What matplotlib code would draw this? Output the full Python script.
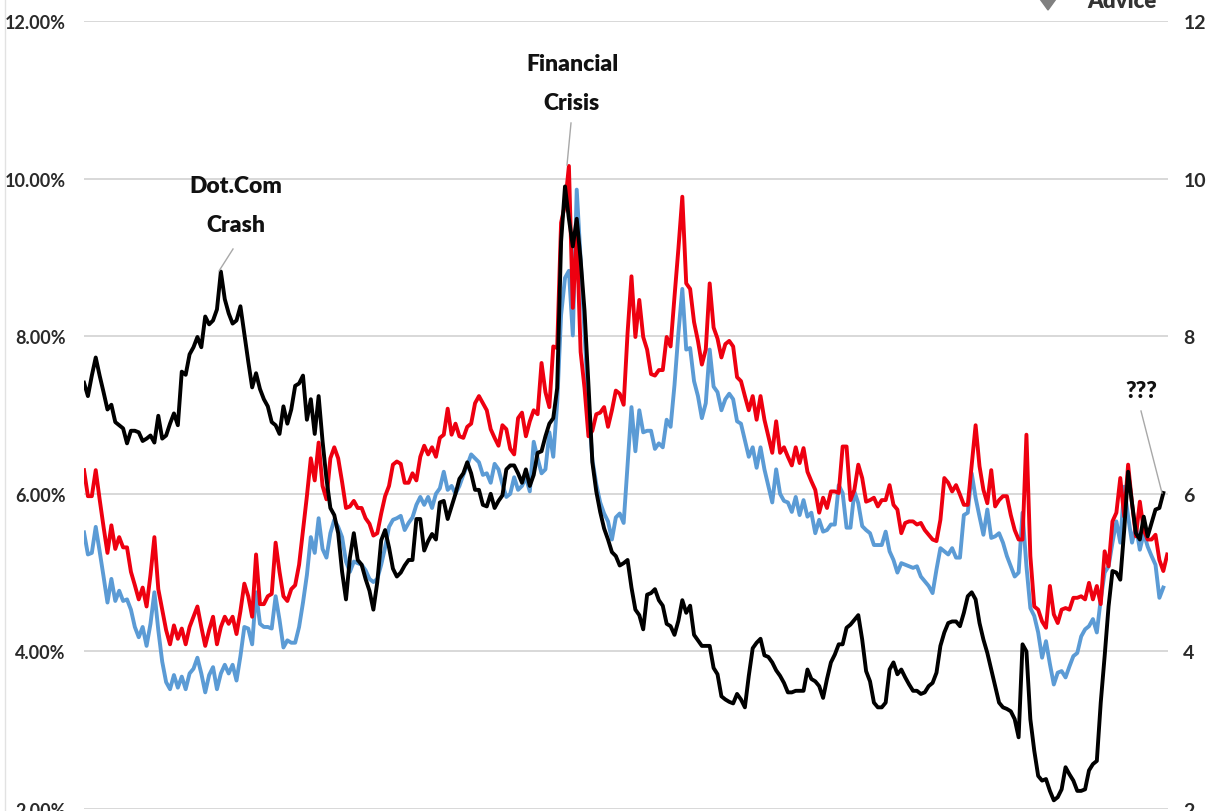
import matplotlib
matplotlib.use('Agg')
import matplotlib.pyplot as plt
from matplotlib.patches import Polygon

# monthly values
red = [6.3,5.97,5.97,6.3,5.93,5.58,5.25,5.6,5.3,5.45,
       5.32,5.32,5.01,4.84,4.66,4.81,4.57,4.97,5.45,4.79,
       4.53,4.27,4.09,4.33,4.16,4.29,4.09,4.31,4.44,4.57,
       4.31,4.07,4.27,4.44,4.09,4.31,4.44,4.35,4.44,4.22,
       4.51,4.86,4.7,4.44,5.23,4.6,4.6,4.7,4.73,5.38,
       5.01,4.7,4.64,4.79,4.84,5.1,5.54,5.97,6.45,6.17,
       6.65,6.1,5.93,6.45,6.59,6.45,6.15,5.82,5.84,5.91,
       5.82,5.82,5.69,5.62,5.47,5.5,5.75,5.97,6.1,6.37,
       6.41,6.38,6.14,6.14,6.26,6.17,6.47,6.61,6.5,6.59,
       6.47,6.71,6.75,7.08,6.75,6.89,6.73,6.71,6.85,6.89,
       7.15,7.24,7.15,7.06,6.82,6.71,6.61,6.87,6.82,6.57,
       6.5,6.96,7.03,6.73,6.92,7.06,7.01,7.66,7.29,7.1,
       7.87,7.85,9.44,9.67,10.16,8.36,9.3,7.8,7.34,6.73,
       6.8,7.01,7.03,7.1,6.85,7.06,7.31,7.27,7.13,8.04,
       8.76,7.99,8.46,7.99,7.83,7.52,7.5,7.57,7.57,7.99,
       7.87,8.5,9.11,9.77,8.67,8.6,8.18,7.94,7.64,7.83,
       8.67,8.11,7.97,7.73,7.9,7.94,7.87,7.48,7.43,7.24,
       7.06,7.24,6.94,7.24,6.94,6.73,6.52,6.92,6.52,6.59,
       6.47,6.36,6.59,6.39,6.58,6.28,6.16,6.05,5.76,5.95,
       5.82,6.03,6.03,6.01,6.6,6.6,5.92,6.05,6.37,6.2,
       5.9,5.92,5.95,5.84,5.92,5.92,6.11,5.86,5.8,5.5,
       5.63,5.65,5.65,5.61,5.63,5.54,5.48,5.42,5.4,5.67,
       6.2,6.14,6.03,6.11,5.99,5.86,5.86,6.37,6.87,6.35,
       6.05,5.88,6.3,5.84,5.92,5.97,5.97,5.73,5.54,5.42,
       5.42,6.75,5.21,4.57,4.53,4.38,4.3,4.83,4.47,4.36,
       4.53,4.55,4.53,4.68,4.68,4.7,4.66,4.87,4.66,4.83,
       4.6,5.27,5.08,5.65,5.76,6.2,5.71,6.37,5.88,5.46,
       5.9,5.54,5.42,5.42,5.48,5.16,5.02,5.23]

blue = [5.51,5.23,5.25,5.58,5.27,4.95,4.62,4.92,4.64,4.77,
        4.64,4.66,4.53,4.31,4.18,4.31,4.07,4.35,4.75,4.27,
        3.87,3.61,3.52,3.7,3.54,3.68,3.52,3.72,3.78,3.92,
        3.72,3.48,3.7,3.8,3.52,3.72,3.83,3.72,3.83,3.63,
        3.94,4.31,4.29,4.09,4.75,4.35,4.31,4.31,4.29,4.7,
        4.4,4.05,4.14,4.11,4.11,4.31,4.62,4.97,5.45,5.25,
        5.69,5.3,5.19,5.5,5.67,5.58,5.45,5.14,5.01,5.14,
        5.12,5.1,5.03,4.92,4.88,4.92,5.1,5.32,5.58,5.67,
        5.69,5.72,5.54,5.63,5.7,5.86,5.96,5.86,5.96,5.82,
        6.0,6.07,6.28,6.05,6.1,6.0,6.1,6.24,6.36,6.5,
        6.45,6.4,6.24,6.26,6.14,6.38,6.31,6.12,5.96,6.0,
        6.21,6.05,6.1,6.21,6.03,6.66,6.45,6.26,6.31,6.78,
        6.47,7.15,8.27,8.74,8.83,8.01,9.86,8.97,8.04,7.1,
        6.43,6.12,5.89,5.75,5.65,5.42,5.7,5.75,5.63,6.36,
        7.1,6.54,7.06,6.78,6.8,6.8,6.57,6.64,6.59,6.94,
        6.85,7.38,8.04,8.6,7.83,7.85,7.43,7.24,6.96,7.15,
        7.83,7.36,7.29,7.06,7.2,7.27,7.2,6.92,6.89,6.68,
        6.47,6.59,6.33,6.59,6.31,6.1,5.89,6.31,6.0,5.91,
        5.89,5.77,5.96,5.73,5.92,5.71,5.76,5.5,5.67,5.52,
        5.54,5.61,5.61,6.11,6.01,5.57,5.57,6.03,5.88,5.59,
        5.54,5.5,5.35,5.35,5.35,5.52,5.27,5.16,5.0,5.12,
        5.1,5.08,5.06,5.08,4.95,4.89,4.83,4.74,5.04,5.31,
        5.27,5.23,5.31,5.19,5.19,5.73,5.76,6.26,5.95,5.71,
        5.48,5.8,5.44,5.46,5.5,5.38,5.21,5.08,4.95,5.0,
        5.76,5.08,4.55,4.45,4.24,3.92,4.13,3.84,3.58,3.73,
        3.75,3.67,3.81,3.94,3.98,4.19,4.28,4.32,4.41,4.24,
        4.66,5.0,5.08,5.38,5.65,5.38,6.09,5.71,5.38,5.59,
        5.29,5.5,5.33,5.21,5.1,4.68,4.81]

black = [7.41,7.24,7.5,7.73,7.5,7.29,7.07,7.13,6.91,6.87,
         6.83,6.64,6.8,6.8,6.78,6.67,6.7,6.74,6.65,6.99,
         6.7,6.74,6.89,7.02,6.87,7.55,7.51,7.77,7.86,7.99,
         7.86,8.25,8.15,8.2,8.34,8.82,8.47,8.29,8.16,8.2,
         8.38,8.03,7.68,7.35,7.53,7.33,7.2,7.11,6.91,6.87,
         6.76,7.11,6.89,7.07,7.37,7.4,7.5,6.94,7.2,6.76,
         7.24,6.67,6.19,5.82,5.73,5.5,5.01,4.66,5.19,5.5,
         5.16,5.1,4.92,4.77,4.53,4.88,5.41,5.54,5.32,5.05,
         4.95,5.0,5.09,5.16,5.16,5.68,5.68,5.28,5.4,5.49,
         5.42,5.89,5.91,5.68,5.84,6.0,6.19,6.26,6.4,6.26,
         6.05,6.05,5.86,5.84,6.0,5.82,5.91,5.98,6.31,6.36,
         6.36,6.26,6.14,6.31,6.1,6.24,6.52,6.54,6.73,6.89,
         6.96,7.34,9.2,9.9,9.49,9.14,9.49,8.97,8.32,7.38,
         6.4,6.03,5.77,5.56,5.42,5.26,5.21,5.09,5.12,5.16,
         4.81,4.53,4.46,4.28,4.72,4.74,4.79,4.65,4.58,4.35,
         4.32,4.21,4.39,4.65,4.49,4.58,4.21,4.14,4.07,4.07,
         4.07,3.79,3.71,3.43,3.39,3.36,3.34,3.46,3.39,3.29,
         3.69,4.04,4.11,4.16,3.95,3.93,3.86,3.76,3.69,3.6,
         3.48,3.48,3.5,3.5,3.5,3.77,3.65,3.62,3.56,3.41,
         3.65,3.86,3.96,4.09,4.09,4.3,4.34,4.4,4.46,4.15,
         3.75,3.62,3.35,3.29,3.29,3.35,3.77,3.86,3.71,3.77,
         3.67,3.58,3.5,3.5,3.46,3.48,3.56,3.6,3.73,4.07,
         4.24,4.36,4.38,4.38,4.32,4.49,4.7,4.75,4.66,4.36,
         4.15,3.98,3.77,3.56,3.35,3.29,3.27,3.24,3.14,2.91,
         4.09,4.0,3.14,2.74,2.42,2.36,2.38,2.23,2.11,2.15,
         2.25,2.53,2.44,2.36,2.23,2.23,2.25,2.49,2.57,2.61,
         3.35,3.94,4.57,5.02,5.0,4.91,5.54,6.28,5.88,5.5,
         5.42,5.71,5.46,5.63,5.8,5.82,6.01]

left_ticks = [2, 4, 6, 8, 10, 12]
left_labels = ['2.00%', '4.00%', '6.00%', '8.00%', '10.00%', '12.00%']
right_labels = ['2', '4', '6', '8', '10', '12']

W, H = 1208, 812
FONT = ['Lato', 'DejaVu Sans']
LW = 2.8

fig = plt.figure(figsize=(W / 100, H / 100), dpi=100)
ax = fig.add_axes([84 / W, 1 - 810 / H, (1168 - 84) / W, (810 - 22) / H])
ax.set_xlim(0, 277.2)
ax.set_ylim(2, 12)
for s in ax.spines.values():
    s.set_visible(False)
ax.set_xticks([])
ax.set_yticks(left_ticks)
ax.set_yticklabels(left_labels, family=FONT, fontsize=13, fontweight='bold', color='#2a2a2a')
ax.tick_params(axis='y', length=0, pad=13)
ax.grid(axis='y', color='#d6d6d6', lw=1.3)
ax.set_axisbelow(True)

ax2 = ax.twinx()
ax2.set_ylim(2, 12)
ax2.set_yticks(left_ticks)
ax2.set_yticklabels(right_labels, family=FONT, fontsize=14, fontweight='bold', color='#2a2a2a')
ax2.tick_params(axis='y', length=0, pad=11)
for s in ax2.spines.values():
    s.set_visible(False)

ax2.plot(range(len(blue)), blue, color='#5b9bd5', lw=LW, solid_joinstyle='round', zorder=2)
ax2.plot(range(len(red)), red, color='#ee0010', lw=LW, solid_joinstyle='round', zorder=3)
ax2.plot(range(len(black)), black, color='black', lw=LW, solid_joinstyle='round', zorder=4)


def note(text, px, py, start, end):
    # text and leader line are placed in pixels of the picture
    fig.text(px / W, 1 - py / H, text, family=FONT, fontsize=16.5, fontweight='heavy',
             color='#111111', ha='center', va='center', linespacing=2.05)
    fig.add_artist(plt.Line2D([start[0] / W, end[0] / W], [1 - start[1] / H, 1 - end[1] / H],
                              color='#a8a8a8', lw=1))


note('Dot.Com\nCrash', 236, 206, (233, 250), (219, 272))
note('Financial\nCrisis', 572, 84, (571, 124), (567, 166))
note('???', 1141, 392, (1141, 412), (1162, 494))

# cut off logo at the top edge
fig.text(1122 / W, 1 - 1 / H, 'Advice', family=FONT, fontsize=16, fontweight='heavy',
         color='#333333', ha='center', va='center')
fig.add_artist(Polygon([(1040 / W, 1), (1056 / W, 1), (1048 / W, 1 - 11 / H)],
                       closed=True, color='#808080', transform=fig.transFigure))
# thin frame line at the left
fig.add_artist(plt.Line2D([5 / W, 5 / W], [0, 1], color='#e2e2e2', lw=1))

fig.savefig('out.png', dpi=100)
